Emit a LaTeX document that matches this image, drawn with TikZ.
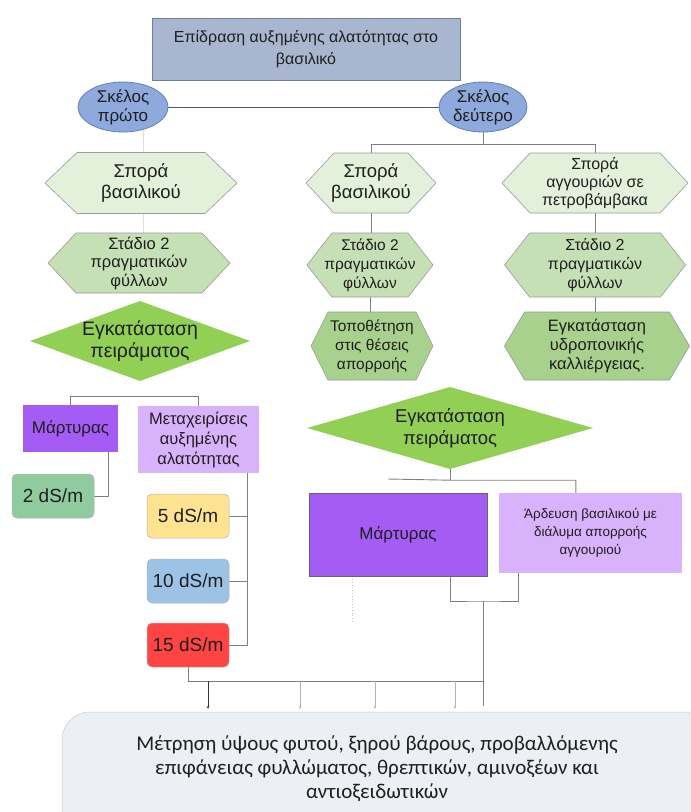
\documentclass[tikz,border=0pt]{standalone}
\usepackage{fontspec}
\setmainfont{Liberation Sans}
\newfontfamily\calib{Carlito}
\usetikzlibrary{shapes.geometric,arrows.meta,calc}
\pgfdeclarelayer{bg}
\pgfsetlayers{bg,main}
\definecolor{titlefill}{HTML}{A8B6CF}
\definecolor{titledraw}{HTML}{6E7E9C}
\definecolor{ellfill}{HTML}{8EA9DB}
\definecolor{elldraw}{HTML}{5F7FBA}
\definecolor{hexA}{HTML}{E3F0DA}
\definecolor{hexB}{HTML}{C6E0B5}
\definecolor{hexC}{HTML}{A9D18E}
\definecolor{diafill}{HTML}{92CF55}
\definecolor{purpleA}{HTML}{A45CF4}
\definecolor{purpleB}{HTML}{D8B2FA}
\definecolor{greenbox}{HTML}{90CB9F}
\definecolor{yellowbox}{HTML}{FFE391}
\definecolor{bluebox}{HTML}{9CC2E5}
\definecolor{redbox}{HTML}{FF4444}
\definecolor{measfill}{HTML}{ECEFF3}
\definecolor{linegray}{HTML}{808080}
\definecolor{shapedraw}{HTML}{9A9A9A}
\newcommand\myhex[9]{%
  \path[#7] ({#2-#4/2},#3) -- ({#2-#4/2+#6},{#3-#5/2}) -- ({#2+#4/2-#6},{#3-#5/2}) -- ({#2+#4/2},#3) -- ({#2+#4/2-#6},{#3+#5/2}) -- ({#2-#4/2+#6},{#3+#5/2}) -- cycle;
  \node[txt, minimum width=#4pt, minimum height=#5pt, font=#8] (#1) at (#2,#3) {#9};}
\newcommand\mydiam[8]{%
  \path[#6] ({#2-#4/2},#3) -- (#2,{#3-#5/2}) -- ({#2+#4/2},#3) -- (#2,{#3+#5/2}) -- cycle;
  \node[txt, minimum width=#4pt, minimum height=#5pt, font=#7] (#1) at (#2,#3) {#8};}
\tikzset{
  txt/.style={inner sep=0pt, align=center, text=black!88},
  conn/.style={draw=linegray, line width=0.9pt},
  faint/.style={draw=gray!25, line width=0.8pt},
  hexstyleA/.style={fill=hexA, draw=shapedraw, line width=0.6pt},
  hexstyleB/.style={fill=hexB, draw=shapedraw, line width=0.6pt},
  hexstyleC/.style={fill=hexC, draw=shapedraw, line width=0.6pt},
  diastyle/.style={fill=diafill, draw=none},
  ell/.style={ellipse, fill=ellfill, draw=elldraw, line width=0.8pt, inner sep=0pt, minimum width=90pt, minimum height=40pt, align=center, text=black!88, font=\fontsize{17}{19}\selectfont},
  sqbox/.style={rectangle, inner sep=0pt, align=center, text=black!88},
  rbox/.style={rectangle, rounded corners=5pt, draw=gray!60, line width=0.5pt, inner sep=0pt, minimum width=82pt, minimum height=44pt, text=black!88, font=\fontsize{19}{21}\selectfont},
  arr/.style={-{Stealth[length=3pt,width=2.5pt]}, line width=0.6pt}
}
\begin{document}
\begin{tikzpicture}[x=1pt,y=-1pt]
\useasboundingbox (0,0) rectangle (691,812);
\begin{pgfonlayer}{bg}
\fill[white] (0,0) rectangle (691,812);
\end{pgfonlayer}
% title
\node[sqbox, fill=titlefill, draw=titledraw, line width=0.6pt, minimum width=308pt, minimum height=62pt, font=\fontsize{16}{22}\selectfont] (title) at (306,49) {Επίδραση αυξημένης αλατότητας στο\\βασιλικό};
% ellipses
\node[ell] (e1) at (123,107) {Σκέλος\\πρώτο};
\node[ell, minimum width=88pt] (e2) at (483,107) {Σκέλος\\δεύτερο};
% left column
\myhex{hL1}{141}{183}{192}{61}{32}{hexstyleA}{\fontsize{18.5}{21.5}\selectfont}{Σπορά\\βασιλικού}
\myhex{hL2}{139}{263}{182}{60}{28}{hexstyleB}{\fontsize{16.5}{18.5}\selectfont}{Στάδιο 2\\πραγματικών\\φύλλων}
\mydiam{dL}{140}{341}{220}{80}{diastyle}{\fontsize{19.5}{22}\selectfont}{Εγκατάσταση\\πειράματος}
\node[sqbox, fill=purpleA, minimum width=95pt, minimum height=47pt, font=\fontsize{17}{19}\selectfont] (mL) at (70.5,428.5) {Μάρτυρας};
\node[sqbox, fill=purpleB, minimum width=121pt, minimum height=67pt, font=\fontsize{16.5}{20}\selectfont] (tL) at (198.5,439.5) {Μεταχειρίσεις\\αυξημένης\\αλατότητας};
\node[rbox, fill=greenbox] (d2) at (53,496) {2 dS/m};
\node[rbox, fill=yellowbox] (d5) at (188,516) {5 dS/m};
\node[rbox, fill=bluebox] (d10) at (188,581) {10 dS/m};
\node[rbox, fill=redbox] (d15) at (188,645) {15 dS/m};
% right column
\myhex{hR1a}{371}{183}{130}{60}{28}{hexstyleA}{\fontsize{18.5}{21.5}\selectfont}{Σπορά\\βασιλικού}
\myhex{hR1b}{595}{183}{186}{60}{28}{hexstyleA}{\fontsize{16}{18}\selectfont}{Σπορά\\αγγουριών σε\\πετροβάμβακα}
\myhex{hR2a}{370}{265}{126}{64}{25}{hexstyleB}{\fontsize{15.5}{19}\selectfont}{Στάδιο 2\\πραγματικών\\φύλλων}
\myhex{hR2b}{595}{265}{181}{64}{25}{hexstyleB}{\fontsize{16}{19}\selectfont}{Στάδιο 2\\πραγματικών\\φύλλων}
\myhex{hR3a}{372}{346}{122}{68}{17}{hexstyleC}{\fontsize{15.5}{19}\selectfont}{Τοποθέτηση\\στις θέσεις\\απορροής}
\myhex{hR3b}{597}{346}{185}{68}{20}{hexstyleC}{\fontsize{16.5}{19}\selectfont}{Εγκατάσταση\\υδροπονικής\\καλλιέργειας.}
\mydiam{dR}{450}{428}{286}{82}{diastyle}{\fontsize{18.5}{22}\selectfont}{Εγκατάσταση\\πειράματος}
\node[sqbox, fill=purpleA, draw=black!60, line width=0.5pt, minimum width=178pt, minimum height=83pt, font=\fontsize{17}{19}\selectfont] (mR) at (398,534.5) {Μάρτυρας};
\node[sqbox, fill=purpleB, minimum width=183pt, minimum height=80pt, font=\fontsize{13.5}{18}\selectfont] (aR) at (590.5,533) {Άρδευση βασιλικού με\\διάλυμα απορροής\\αγγουριού};
% measurement box
\path[fill=measfill] (62,812) [rounded corners=28pt] -- (62,712) [sharp corners] -- (690,712) -- (690,812) -- cycle;
\draw[gray!40, line width=0.5pt] (62,812) [rounded corners=28pt] -- (62,712) [sharp corners] -- (690,712) -- (690,812);
\node[txt, font=\calib\fontsize{21}{24}\selectfont] (meas) at (377,769) {Μέτρηση ύψους φυτού, ξηρού βάρους, προβαλλόμενης\\επιφάνειας φυλλώματος, θρεπτικών, αμινοξέων και\\αντιοξειδωτικών};
% connectors
\begin{pgfonlayer}{bg}
\draw[conn, draw=black!65] (e1) -- (e2);
\draw[faint] ([xshift=20pt,yshift=2pt]e1.south) -- ++(0,115);
% right branch
\coordinate (br) at ([yshift=-12pt]e2.south);
\draw[conn] (e2.south) -- (br);
\draw[conn] (hR1a.north) |- (br) -| (hR1b.north);
\draw[conn] (hR1a.south) -- (hR1a.south |- hR2a.north);
\draw[conn] (hR2a.south) -- (hR2a.south |- hR3a.north);
\draw[conn] (hR1b.south) -- (hR1b.south |- hR2b.north);
\draw[conn] (hR2b.south) -- (hR2b.south |- hR3b.north);
% left bracket
\draw[conn] (mL.north) -- ++(0,-8) -| (tL.north);
\draw[conn] ([xshift=-10pt]mL.south east) |- (d2.east);
\coordinate (sp) at ([xshift=-12pt]tL.south east);
\draw[conn] (sp) |- (d15.east);
\draw[conn] (d5.east) -- (d5.east -| sp);
\draw[conn] (d10.east) -- (d10.east -| sp);
% right diamond branch
\coordinate (b2) at ([yshift=-11pt]dR.south);
\coordinate (b2l) at (388,479);
\draw[conn] (dR.south) -- (b2);
\draw[conn] (b2l) -- (b2) -| ([xshift=77pt]aR.north west);
% right bracket
\coordinate (bl) at ([xshift=-37pt]mR.south east);
\coordinate (brr) at ([xshift=20pt]aR.south west);
\coordinate (bm) at (483,601);
\draw[conn] (bl) |- (bm) -| (brr);
\coordinate (stemEnd) at (483,706);
\draw[conn] (bm) -- (stemEnd);
\draw[gray!45, dotted, line width=0.8pt] ([xshift=-46pt]mR.south) -- ++(0,45);
% bottom collector
\coordinate (hr) at (483,681);
\draw[conn] (d15.south) |- (hr);
\coordinate (a1) at (208,681);
\coordinate (a2) at (300,681);
\coordinate (a3) at (375,681);
\coordinate (a4) at (455,681);
\draw[arr, black!80] (a1) -- (a1 |- 0,709);
\draw[arr, gray!60] (a2) -- (a2 |- 0,709);
\draw[arr, gray!60] (a3) -- (a3 |- 0,709);
\draw[arr, gray!60] (a4) -- (a4 |- 0,709);
\end{pgfonlayer}
\end{tikzpicture}
\end{document}
